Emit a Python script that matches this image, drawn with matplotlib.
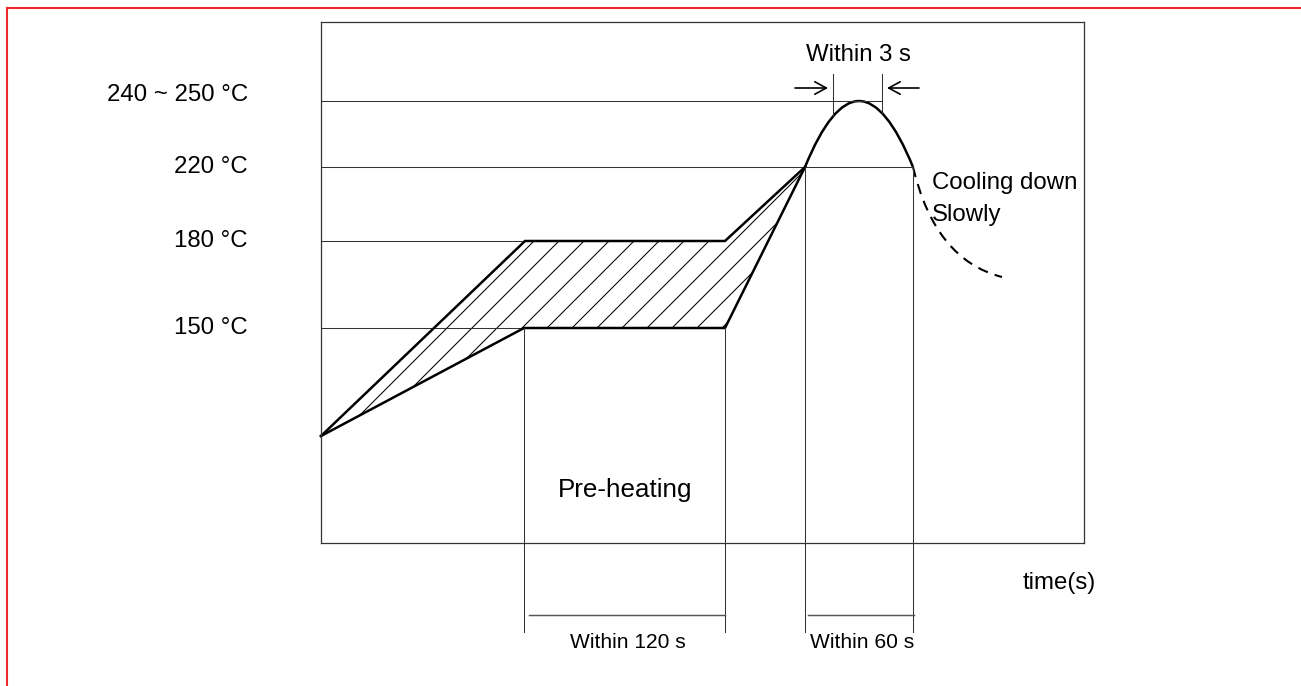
import matplotlib
matplotlib.use("Agg")
import matplotlib.pyplot as plt
from matplotlib.path import Path
from matplotlib.patches import PathPatch
from matplotlib.lines import Line2D

plt.rcParams['font.family'] = ['Liberation Sans', 'DejaVu Sans']
plt.rcParams['hatch.linewidth'] = 0.5

# schematic reflow profile, units are arbitrary drawing units
levels = ["240 ~ 250 °C", "220 °C", "180 °C", "150 °C"]
level_y = [442, 376, 302, 215]
level_label_y = [448, 376, 302, 215]
level_end_x = [561, 592, 204, 203]

upper_x = [0, 204, 404, 484]
upper_y = [107, 302, 302, 376]
lower_x = [0, 203, 404, 484]
lower_y = [107, 215, 215, 376]

# peak (quadratic curve: start, control, end)
peak_pts = [(484, 376), (538, 508), (592, 376)]
cool_pts = [(592, 376), (614, 283), (681, 266)]

# "within 3 s" marks
peak_mark_x = [512, 561]
peak_mark_top = 469
peak_mark_bottom = [427, 430]

# phase boundaries and spans
phase_x = [203, 404, 484, 592]
phase_top = [215, 215, 376, 376]
phase_bottom = -89
spans = [(208, 404), (487, 593)]
span_labels = ["Within 120 s", "Within 60 s"]
span_y = -72

W, H, DPI = 1301, 686, 150
fig = plt.figure(figsize=(W / DPI, H / DPI), dpi=DPI)
ax = fig.add_axes([321 / W, (H - 543) / H, 763 / W, 521 / H])
ax.set_xlim(0, 763)
ax.set_ylim(0, 521)
ax.set_xticks([])
ax.set_yticks([])
for sp in ax.spines.values():
    sp.set_color('#333333')
    sp.set_linewidth(0.6)

thin = dict(color='#333333', lw=0.5, clip_on=False)
thick = dict(color='black', lw=1.2, clip_on=False)

# guide lines and level labels
for lab, y, ly, xe in zip(levels, level_y, level_label_y, level_end_x):
    ax.plot([0, xe], [y, y], **thin)
    ax.text(-73, ly, lab, ha='right', va='center', fontsize=11.5, clip_on=False)

# hatched process window
poly_x = upper_x + lower_x[::-1][1:]
poly_y = upper_y + lower_y[::-1][1:]
ax.fill(poly_x, poly_y, facecolor='none', edgecolor='black', lw=0, hatch='//')

ax.plot(upper_x, upper_y, solid_joinstyle='miter', **thick)
ax.plot(lower_x, lower_y, solid_joinstyle='miter', **thick)

q = [Path.MOVETO, Path.CURVE3, Path.CURVE3]
ax.add_patch(PathPatch(Path(peak_pts, q), facecolor='none', edgecolor='black', lw=1.2))
ax.add_patch(PathPatch(Path(cool_pts, q), facecolor='none', edgecolor='black', lw=1.0,
                       linestyle=(0, (5, 3.5)), clip_on=False))

# within 3 s
for x, yb in zip(peak_mark_x, peak_mark_bottom):
    ax.plot([x, x], [yb, peak_mark_top], **thin)
arrow = dict(arrowstyle='->,head_length=0.55,head_width=0.3', lw=0.8, color='black',
             shrinkA=0, shrinkB=0)
ax.annotate('', xy=(peak_mark_x[0] - 5, 455), xytext=(peak_mark_x[0] - 38, 455),
            arrowprops=arrow, annotation_clip=False)
ax.annotate('', xy=(peak_mark_x[1] + 5, 455), xytext=(peak_mark_x[1] + 37, 455),
            arrowprops=arrow, annotation_clip=False)
ax.text(537, 488, "Within 3 s", ha='center', va='center', fontsize=11.5)

# phase boundaries below the curve
for x, yt in zip(phase_x, phase_top):
    ax.plot([x, x], [phase_bottom, yt], **thin)
for (x0, x1), lab in zip(spans, span_labels):
    ax.plot([x0, x1], [span_y, span_y], color='#555555', lw=0.7, clip_on=False)
    ax.text((x0 + x1) / 2 + 1, -100, lab, ha='center', va='center', fontsize=10.1,
            clip_on=False)

ax.text(304, 53, "Pre-heating", ha='center', va='center', fontsize=12.5)
ax.text(611, 360, "Cooling down", ha='left', va='center', fontsize=11.5, clip_on=False)
ax.text(611, 328, "Slowly", ha='left', va='center', fontsize=11.5)
ax.text(702, -40, "time(s)", ha='left', va='center', fontsize=11.5, clip_on=False)

# red frame of the original screenshot
red = '#EE2A2A'
fig.add_artist(Line2D([7 / W, 7 / W], [0, (H - 8) / H], color=red, lw=1.0))
fig.add_artist(Line2D([7 / W, 1], [(H - 8) / H, (H - 8) / H], color=red, lw=1.0))

fig.savefig('out.png', dpi=DPI)
